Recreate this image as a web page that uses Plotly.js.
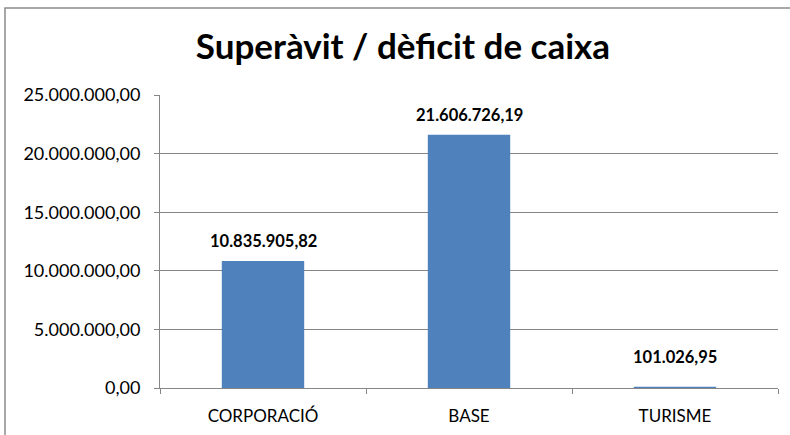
<!DOCTYPE html>
<html>
<head>
<meta charset="utf-8">
<script src="https://cdn.plot.ly/plotly-3.0.1.min.js"></script>
<style>
  body { margin: 0; background: #fff; }
  #plot { width: 790px; height: 435px; }
</style>
</head>
<body>
<div id="plot"></div>
<script>
// chart data
const categories = ["CORPORACIÓ", "BASE", "TURISME"];
const values = [10835905.82, 21606726.19, 101026.95];
const tickValues = [0, 5000000, 10000000, 15000000, 20000000, 25000000];

const fontFamily = "Lato, 'Open Sans', sans-serif";
const gray = "#868686";

// format numbers as 10.835.905,82
function fmt(v) {
  const parts = v.toFixed(2).split(".");
  parts[0] = parts[0].replace(/\B(?=(\d{3})+(?!\d))/g, ".");
  return parts.join(",");
}

const trace = {
  type: "bar",
  x: categories,
  y: values,
  marker: { color: "#4F81BD" },
  hoverinfo: "skip",
};

const layout = {
  width: 790,
  height: 435,
  margin: { l: 160, r: 12, t: 95, b: 47 },
  paper_bgcolor: "#fff",
  plot_bgcolor: "#fff",
  separators: ",.",
  font: { family: fontFamily, color: "#000", size: 16 },
  title: {
    text: "<b>Superàvit / dèficit de caixa</b>",
    font: { family: fontFamily, size: 35, color: "#000" },
    xref: "container",
    x: 403 / 790,
    xanchor: "center",
    yref: "container",
    y: 1 - 47 / 435,
    yanchor: "middle",
  },
  bargap: 0.6,
  showlegend: false,
  xaxis: {
    type: "category",
    showline: true,
    linecolor: gray,
    linewidth: 1,
    ticks: "outside",
    tickson: "boundaries",
    ticklen: 5,
    tickcolor: gray,
    ticklabelstandoff: 13,
    tickfont: { family: fontFamily, size: 17, color: "#000" },
    fixedrange: true,
  },
  yaxis: {
    range: [0, 25000000],
    tickvals: tickValues,
    tickformat: ",.2f",
    showline: true,
    linecolor: gray,
    linewidth: 1,
    ticks: "outside",
    ticklen: 5,
    tickcolor: gray,
    ticklabelstandoff: 10,
    showgrid: true,
    gridcolor: gray,
    gridwidth: 1,
    zeroline: false,
    tickfont: { family: fontFamily, size: 18, color: "#000" },
    fixedrange: true,
  },
  // data labels above the bars
  annotations: categories.map((c, i) => ({
    x: c,
    y: values[i],
    xref: "x",
    yref: "y",
    text: "<b>" + fmt(values[i]) + "</b>",
    showarrow: false,
    yanchor: "middle",
    yshift: i === 2 ? 30 : 20,
    font: { family: fontFamily, size: 16.5, color: "#000" },
  })),
  shapes: [
    // chart frame (left and top edges are visible)
    {
      type: "rect",
      xref: "paper",
      yref: "paper",
      x0: (5 - 160) / 618,
      x1: (800 - 160) / 618,
      y0: (388 - 445) / 293,
      y1: (388 - 8) / 293,
      line: { color: "#8c8c8c", width: 1.5 },
    },
  ],
};

Plotly.newPlot("plot", [trace], layout, { displayModeBar: false, staticPlot: true });
</script>
</body>
</html>
